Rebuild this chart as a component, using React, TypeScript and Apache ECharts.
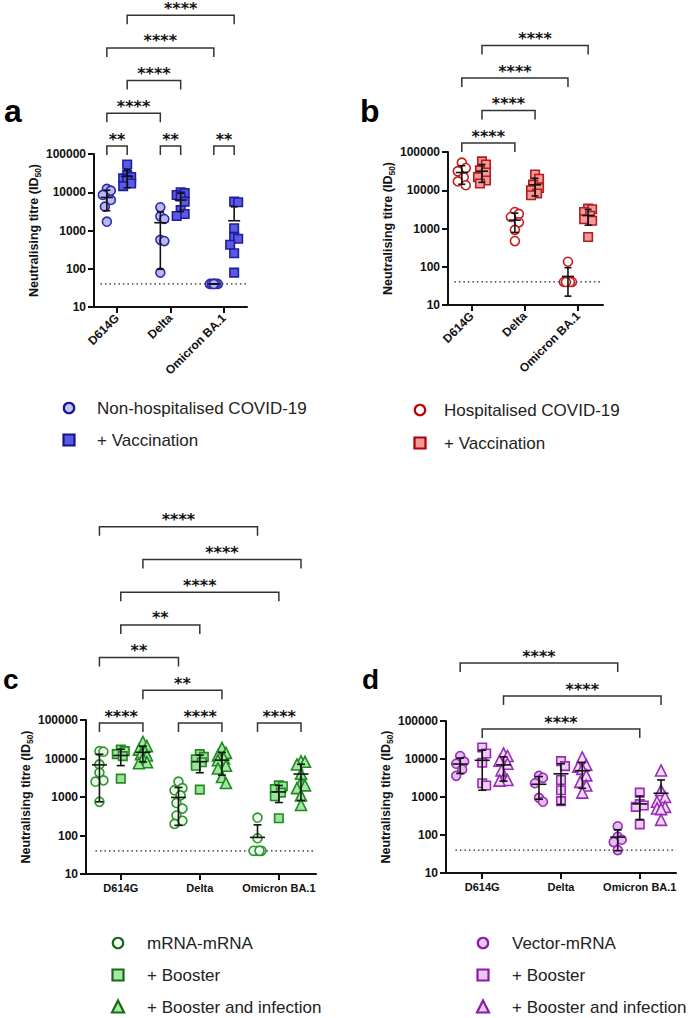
import React, { useEffect, useRef } from "react";
import * as echarts from "echarts";

const FONT = '"Liberation Sans", Arial, sans-serif';
const VARIANTS = ["D614G", "Delta", "Omicron BA.1"];
const LOD = 40;
const Y_MIN = 10;
const Y_MAX = 100000;
const Y_TITLE = "Neutralising titre (ID{sub|50})";

// ---- panel a (values per variant: D614G, Delta, Omicron BA.1)
const A_NONHOSP = [
  [12200, 11000, 8500, 6300, 4200, 1700],
  [4050, 2350, 2000, 570, 530, 79],
  [40, 40, 40, 40, 40, 40],
];
const A_VACC = [
  [53000, 28000, 25000, 23000, 21000, 17000, 14500],
  [10000, 9500, 8500, 7800, 5700, 3400, 2700, 2400],
  [5700, 5500, 1150, 670, 610, 425, 255, 79],
];
// ---- panel b
const B_HOSP = [
  [52700, 38000, 31500, 21800, 17000, 13500],
  [2700, 2400, 2000, 1450, 920, 470],
  [135, 40, 40, 40, 40, 40],
];
const B_VACC = [
  [57000, 47000, 33000, 29000, 22000, 18000, 15000],
  [25700, 20000, 14000, 11500, 10000, 8200, 7400],
  [3300, 3200, 2700, 2150, 1750, 1600, 600],
];
// ---- panel c
const C_MRNA = [
  [15500, 15000, 7000, 4300, 2700, 2500, 750],
  [2500, 1700, 1500, 1100, 700, 500, 330, 240, 200],
  [290, 85, 40, 40, 40, 40],
];
const C_BOOST = [
  [17000, 15500, 13000, 11500, 3000],
  [13000, 11000, 9500, 8000, 6500, 1550],
  [2000, 1900, 1600, 1300, 1050, 280],
];
const C_BOOST_INF = [
  [27000, 21000, 17000, 15000, 13000, 12000, 10000, 8000, 7500],
  [19000, 14000, 12000, 10000, 9000, 6500, 5500, 3300, 2300],
  [8500, 8200, 7000, 4000, 2400, 2000, 1700, 1100, 620],
];
// ---- panel d
const D_VECTOR = [
  [12000, 8500, 7500, 5300, 3600],
  [3600, 3200, 2300, 950, 750],
  [170, 90, 75, 65, 40],
];
const D_BOOST = [
  [20000, 14000, 8000, 2300, 2000],
  [8800, 6500, 2800, 1500, 780],
  [1300, 650, 600, 550, 190],
];
const D_BOOST_INF = [
  [14000, 12000, 9000, 7500, 5000, 3000, 2800, 2700],
  [11000, 7000, 6300, 5500, 3700, 2500, 2000, 1300],
  [5000, 1500, 1000, 750, 550, 500, 480, 250],
];

// brackets: [variantA, groupA, variantB, groupB, level, label]
const A_BRACKETS: [number, number, number, number, number, string][] = [
  [0, 0, 0, 1, 0, "**"],
  [1, 0, 1, 1, 0, "**"],
  [2, 0, 2, 1, 0, "**"],
  [0, 0, 1, 0, 1, "****"],
  [0, 1, 1, 1, 2, "****"],
  [0, 0, 2, 0, 3, "****"],
  [0, 1, 2, 1, 4, "****"],
];
const B_BRACKETS: [number, number, number, number, number, string][] = [
  [0, 0, 1, 0, 0, "****"],
  [0, 1, 1, 1, 1, "****"],
  [0, 0, 2, 0, 2, "****"],
  [0, 1, 2, 1, 3, "****"],
];
const C_BRACKETS: [number, number, number, number, number, string][] = [
  [0, 0, 0, 2, 0, "****"],
  [1, 0, 1, 2, 0, "****"],
  [2, 0, 2, 2, 0, "****"],
  [0, 2, 1, 2, 1, "**"],
  [0, 0, 1, 0, 2, "**"],
  [0, 1, 1, 1, 3, "**"],
  [0, 1, 2, 1, 4, "****"],
  [0, 2, 2, 2, 5, "****"],
  [0, 0, 2, 0, 6, "****"],
];
const D_BRACKETS: [number, number, number, number, number, string][] = [
  [0, 1, 2, 1, 0, "****"],
  [0, 2, 2, 2, 1, "****"],
  [0, 0, 2, 0, 2, "****"],
];

type Group = {
  name: string;
  values: number[][];
  symbol: string;
  fill: string;
  stroke: string;
  lfill: string;
  lstroke: string;
  offset: number;
};

type Panel = {
  letter: string;
  letterX: number;
  letterY: number;
  letterSize: number;
  grid: { left: number; top: number; width: number; height: number };
  xMin: number;
  xMax: number;
  rotate: number;
  labelSize: number;
  size: number;
  meanHalf: number;
  capHalf: number;
  groups: Group[];
  brackets: [number, number, number, number, number, string][];
  bracketBase: number;
  bracketGap: number;
  legendX: number;
  legendTextX: number;
  legendY: number;
  legendGap: number;
};

const PANELS: Panel[] = [
  {
    letter: "a", letterX: 4, letterY: 111, letterSize: 32,
    grid: { left: 94, top: 154, width: 153, height: 153 },
    xMin: -0.43, xMax: 2.43, rotate: 45, labelSize: 12, size: 9, meanHalf: 6, capHalf: 3.5,
    groups: [
      { name: "Non-hospitalised COVID-19", values: A_NONHOSP, symbol: "circle", fill: "#b9b9f2", stroke: "#2b2bb0", lfill: "#c4c4f4", lstroke: "#14148f", offset: -0.19 },
      { name: "+ Vaccination", values: A_VACC, symbol: "rect", fill: "#5a5ae6", stroke: "#1f1f9c", lfill: "#5a5ae6", lstroke: "#14148f", offset: 0.19 },
    ],
    brackets: A_BRACKETS, bracketBase: -8, bracketGap: 32.7,
    legendX: 69, legendTextX: 97, legendY: 408, legendGap: 32,
  },
  {
    letter: "b", letterX: 360, letterY: 111, letterSize: 32,
    grid: { left: 448, top: 152, width: 155, height: 153 },
    xMin: -0.45, xMax: 2.47, rotate: 45, labelSize: 12, size: 9, meanHalf: 6, capHalf: 3.5,
    groups: [
      { name: "Hospitalised COVID-19", values: B_HOSP, symbol: "circle", fill: "#ffffff", stroke: "#c41e1e", lfill: "#ffffff", lstroke: "#c00000", offset: -0.19 },
      { name: "+ Vaccination", values: B_VACC, symbol: "rect", fill: "#f09a9a", stroke: "#b51c1c", lfill: "#f09a9a", lstroke: "#b00000", offset: 0.19 },
    ],
    brackets: B_BRACKETS, bracketBase: -9, bracketGap: 32.5,
    legendX: 420, legendTextX: 444, legendY: 410, legendGap: 33,
  },
  {
    letter: "c", letterX: 3, letterY: 679, letterSize: 28,
    grid: { left: 86, top: 720, width: 230, height: 154 },
    xMin: -0.44, xMax: 2.47, rotate: 0, labelSize: 11, size: 9, meanHalf: 7.5, capHalf: 4,
    groups: [
      { name: "mRNA-mRNA", values: C_MRNA, symbol: "circle", fill: "#eef9ee", stroke: "#2a952a", lfill: "#ffffff", lstroke: "#176a17", offset: -0.27 },
      { name: "+ Booster", values: C_BOOST, symbol: "rect", fill: "#9ce39c", stroke: "#1f8a1f", lfill: "#a6e8a6", lstroke: "#176a17", offset: 0 },
      { name: "+ Booster and infection", values: C_BOOST_INF, symbol: "triangle", fill: "#a4e6a4", stroke: "#1f8a1f", lfill: "#a6e8a6", lstroke: "#176a17", offset: 0.28 },
    ],
    brackets: C_BRACKETS, bracketBase: 3, bracketGap: 32.7,
    legendX: 118, legendTextX: 147, legendY: 943, legendGap: 32,
  },
  {
    letter: "d", letterX: 362, letterY: 679, letterSize: 28,
    grid: { left: 446, top: 721, width: 230, height: 152 },
    xMin: -0.46, xMax: 2.46, rotate: 0, labelSize: 11, size: 9, meanHalf: 7.5, capHalf: 4,
    groups: [
      { name: "Vector-mRNA", values: D_VECTOR, symbol: "circle", fill: "#e2bdee", stroke: "#9a2ab8", lfill: "#e8c8f0", lstroke: "#8a1aa8", offset: -0.28 },
      { name: "+ Booster", values: D_BOOST, symbol: "rect", fill: "#eccdf4", stroke: "#9a2ab8", lfill: "#e8c8f0", lstroke: "#8a1aa8", offset: 0 },
      { name: "+ Booster and infection", values: D_BOOST_INF, symbol: "triangle", fill: "#f1dbf7", stroke: "#9a2ab8", lfill: "#e8c8f0", lstroke: "#8a1aa8", offset: 0.27 },
    ],
    brackets: D_BRACKETS, bracketBase: 8, bracketGap: 33,
    legendX: 483, legendTextX: 512, legendY: 943, legendGap: 32,
  },
];

function dodge(values: number[], pxPerDecade: number, pxPerUnit: number, size: number): number[] {
  const order = values.map((_, i) => i).sort((a, b) => values[b] - values[a]);
  const placed: { x: number; y: number }[] = [];
  const res = new Array(values.length).fill(0);
  const step = 2;
  const cands = [0, step, -step, 2 * step, -2 * step];
  for (const i of order) {
    const y = Math.log10(values[i]) * pxPerDecade;
    let best = 0;
    let bestD = -1;
    for (const c of cands) {
      let minD = Infinity;
      for (const p of placed) minD = Math.min(minD, Math.hypot(p.x - c, p.y - y));
      if (minD >= size * 0.9) { best = c; bestD = minD; break; }
      if (minD > bestD) { bestD = minD; best = c; }
    }
    placed.push({ x: best, y });
    res[i] = best / pxPerUnit;
  }
  return res;
}

function stats(vals: number[]) {
  const n = vals.length;
  const m = vals.reduce((s, v) => s + v, 0) / n;
  const sd = n > 1 ? Math.sqrt(vals.reduce((s, v) => s + (v - m) * (v - m), 0) / (n - 1)) : 0;
  return [m, m - sd, m + sd];
}

function buildOption() {
  const grid: any[] = [];
  const xAxis: any[] = [];
  const yAxis: any[] = [];
  const series: any[] = [];
  const graphic: any[] = [];

  PANELS.forEach((P, p) => {
    grid.push({ ...P.grid, containLabel: false, outerBoundsMode: "none" });
    xAxis.push({
      type: "value",
      gridIndex: p,
      min: P.xMin,
      max: P.xMax,
      axisLine: { show: true, onZero: false, lineStyle: { color: "#111", width: 2 } },
      axisTick: { show: true, customValues: [0, 1, 2], length: 6, lineStyle: { color: "#111", width: 2 } },
      axisLabel: {
        customValues: [0, 1, 2],
        formatter: (v: number) => VARIANTS[Math.round(v)] ?? "",
        rotate: P.rotate,
        fontSize: P.labelSize,
        fontWeight: "bold",
        fontFamily: FONT,
        color: "#111",
        margin: P.rotate ? 9 : 8,
      },
      splitLine: { show: false },
    });
    yAxis.push({
      type: "log",
      logBase: 10,
      gridIndex: p,
      min: Y_MIN,
      max: Y_MAX,
      axisLine: { show: true, onZero: false, lineStyle: { color: "#111", width: 2 } },
      axisTick: { show: true, length: 6, lineStyle: { color: "#111", width: 2 } },
      minorTick: { show: false },
      axisLabel: {
        formatter: (v: number) => String(Math.round(v)),
        fontSize: 12,
        fontWeight: "bold",
        fontFamily: FONT,
        color: "#111",
        margin: 8,
      },
      splitLine: { show: false },
      name: Y_TITLE,
      nameLocation: "middle",
      nameGap: 52,
      nameRotate: 90,
      nameTextStyle: {
        fontSize: 12.5,
        fontWeight: "bold",
        fontFamily: FONT,
        color: "#111",
        lineHeight: 16,
        rich: {
          sub: { fontSize: 8.5, fontWeight: "bold", fontFamily: FONT, color: "#111", lineHeight: 10, verticalAlign: "bottom" },
        },
      },
    });

    const pxPerDecade = P.grid.height / 4;
    const pxPerUnit = P.grid.width / (P.xMax - P.xMin);

    // limit of detection (dotted)
    series.push({
      type: "line",
      xAxisIndex: p,
      yAxisIndex: p,
      data: [[P.xMin + 0.12, LOD], [P.xMax, LOD]],
      showSymbol: false,
      symbol: "none",
      silent: true,
      lineStyle: { color: "#222", width: 1.3, type: [1.5, 3] },
      z: 1,
    });

    const errData: number[][] = [];
    P.groups.forEach((g) => {
      const pts: number[][] = [];
      g.values.forEach((vals, v) => {
        const offs = dodge(vals, pxPerDecade, pxPerUnit, P.size);
        vals.forEach((val, i) => pts.push([v + g.offset + offs[i], val]));
        const [m, lo, hi] = stats(vals);
        errData.push([v + g.offset, m, lo > 0 ? lo : -1, hi]);
      });
      series.push({
        type: "scatter",
        name: g.name,
        xAxisIndex: p,
        yAxisIndex: p,
        symbol: g.symbol,
        symbolSize: g.symbol === "triangle" ? P.size + 2 : g.symbol === "rect" ? P.size - 0.5 : P.size,
        itemStyle: { color: g.fill, borderColor: g.stroke, borderWidth: 1.6, opacity: 1 },
        data: pts,
        z: 3,
        silent: true,
      });
    });

    // mean ± SD
    series.push({
      type: "custom",
      xAxisIndex: p,
      yAxisIndex: p,
      z: 4,
      silent: true,
      data: errData,
      renderItem: (params: any, api: any) => {
        const x = api.value(0);
        const m = api.value(1);
        const lo = api.value(2);
        const hi = api.value(3);
        const pm = api.coord([x, m]);
        const ph = api.coord([x, hi]);
        const pl = lo > 0 ? api.coord([x, lo]) : pm;
        const st = { stroke: "#111", lineWidth: 1.6 };
        const children: any[] = [
          { type: "line", shape: { x1: pm[0], y1: ph[1], x2: pm[0], y2: pl[1] }, style: st },
          { type: "line", shape: { x1: pm[0] - P.meanHalf, y1: pm[1], x2: pm[0] + P.meanHalf, y2: pm[1] }, style: st },
          { type: "line", shape: { x1: pm[0] - P.capHalf, y1: ph[1], x2: pm[0] + P.capHalf, y2: ph[1] }, style: st },
        ];
        if (lo > 0) {
          children.push({ type: "line", shape: { x1: pm[0] - P.capHalf, y1: pl[1], x2: pm[0] + P.capHalf, y2: pl[1] }, style: st });
        }
        return { type: "group", children };
      },
    });

    // significance brackets
    const bData = P.brackets.map((b) => [
      b[0] + P.groups[b[1]].offset,
      Y_MAX,
      b[2] + P.groups[b[3]].offset,
      b[4],
    ]);
    series.push({
      type: "custom",
      xAxisIndex: p,
      yAxisIndex: p,
      z: 5,
      silent: true,
      clip: false,
      data: bData,
      renderItem: (params: any, api: any) => {
        const a = api.coord([api.value(0), Y_MAX]);
        const b = api.coord([api.value(2), Y_MAX]);
        const lvl = api.value(3);
        const y = a[1] + P.bracketBase - lvl * P.bracketGap;
        const label = P.brackets[params.dataIndex][5];
        return {
          type: "group",
          children: [
            {
              type: "polyline",
              shape: { points: [[a[0], y + 9], [a[0], y], [b[0], y], [b[0], y + 9]] },
              style: { stroke: "#333", lineWidth: 1.5, fill: "none" },
            },
            {
              type: "text",
              style: {
                text: label,
                x: (a[0] + b[0]) / 2,
                y: y - 7,
                align: "center",
                verticalAlign: "middle",
                fontSize: 16,
                fontWeight: "bold",
                fontFamily: '"DejaVu Sans", sans-serif',
                fill: "#111",
              },
            },
          ],
        };
      },
    });

    // panel letter
    graphic.push({
      type: "text",
      x: P.letterX,
      y: P.letterY,
      style: {
        text: P.letter,
        fontSize: P.letterSize,
        fontWeight: "bold",
        fontFamily: FONT,
        fill: "#000",
        verticalAlign: "middle",
      },
    });

    // legend
    P.groups.forEach((g, k) => {
      const cx = P.legendX;
      const cy = P.legendY + k * P.legendGap;
      const st = { fill: g.lfill, stroke: g.lstroke, lineWidth: 2.2 };
      if (g.symbol === "circle") {
        graphic.push({ type: "circle", shape: { cx, cy, r: 5.2 }, style: st });
      } else if (g.symbol === "rect") {
        graphic.push({ type: "rect", shape: { x: cx - 5.5, y: cy - 5.5, width: 11, height: 11 }, style: st });
      } else {
        graphic.push({ type: "polygon", shape: { points: [[cx, cy - 6.5], [cx + 6, cy + 5.5], [cx - 6, cy + 5.5]] }, style: st });
      }
      graphic.push({
        type: "text",
        x: P.legendTextX,
        y: cy,
        style: {
          text: g.name,
          fontSize: 17,
          fontFamily: FONT,
          fill: "#222",
          verticalAlign: "middle",
        },
      });
    });
  });

  return { animation: false, backgroundColor: "#ffffff", grid, xAxis, yAxis, series, graphic };
}

export default function App() {
  const ref = useRef<HTMLDivElement>(null);
  useEffect(() => {
    if (!ref.current) return;
    const chart = echarts.init(ref.current, null, { renderer: "svg" });
    chart.setOption(buildOption() as any);
    return () => chart.dispose();
  }, []);
  return (
    <div
      ref={ref}
      style={{ position: "absolute", left: 0, top: 0, width: 692, height: 1018, background: "#fff" }}
    />
  );
}
